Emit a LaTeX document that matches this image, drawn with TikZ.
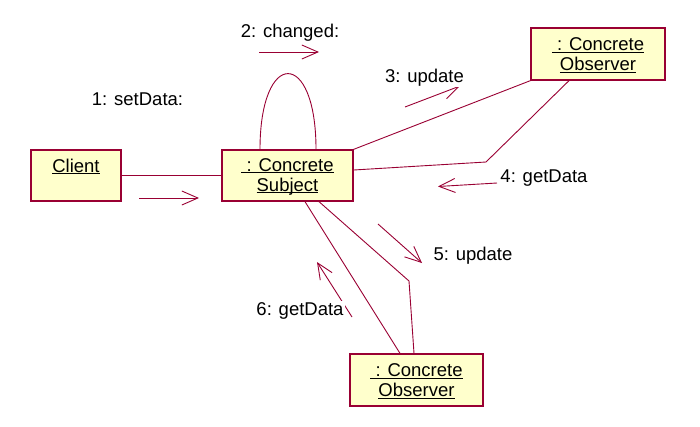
\documentclass[tikz,border=0pt]{standalone}
\usepackage{fontspec}
\setmainfont{Liberation Sans}
\usetikzlibrary{arrows.meta}
\definecolor{umlline}{RGB}{153,0,51}
\definecolor{umlfill}{RGB}{255,255,204}
\newsavebox{\ulnamebox}
\newcommand{\ulname}[1]{\rule{0pt}{15pt}\sbox{\ulnamebox}{#1}\rlap{\rule[-2pt]{\wd\ulnamebox}{0.9pt}}\usebox{\ulnamebox}}

\begin{document}
\begin{tikzpicture}
[x=1pt,y=-1pt,
  objdecorate/.style={shape=rectangle,draw=umlline,fill=umlfill,line width=1.3pt,
    minimum height=51pt,inner sep=0pt,align=center,font=\fontsize{18.5}{20}\selectfont},%
  linkdecorate/.style={-,draw=umlline,line width=0.9pt},%
  msgdecorate/.style={-{Straight Barb[length=16pt,width=14pt]},draw=umlline,line width=0.9pt},%
  labeldecorate/.style={anchor=base,fill=white,inner sep=1.5pt,font=\fontsize{18.5}{20}\selectfont}]
\useasboundingbox (0,0) rectangle (700,426);
%% objects
\node (client) at (76,175.5) [objdecorate,minimum width=90pt] {\ulname{Client}\\\ulname{}};
\node (subject) at (287.5,175.5) [objdecorate,minimum width=131pt] {\ulname{\ : Concrete}\\\ulname{Subject}};
\node (obsA) at (598,54) [objdecorate,minimum width=134pt,minimum height=52pt] {\ulname{\ : Concrete}\\\ulname{Observer}};
\node (obsB) at (416.5,380) [objdecorate,minimum width=133pt,minimum height=52pt] {\ulname{\ : Concrete}\\\ulname{Observer}};
%% links
\coordinate (kneeA) at (486,162);
\coordinate (kneeB) at (409,281);
\draw[linkdecorate] (client.east) -- (subject.west);
\draw[linkdecorate] ([xshift=-27.5pt]subject.north) .. controls +(0,-101) and +(0,-101) .. ([xshift=28.5pt]subject.north);
\draw[linkdecorate] (subject.north east) -- (obsA.south west);
\draw[linkdecorate] ([yshift=5.5pt]subject.east) -- (kneeA) -- ([xshift=-29pt]obsA.south);
\draw[linkdecorate] ([xshift=17.5pt]subject.south) -- ([xshift=-16.5pt]obsB.north);
\draw[linkdecorate] ([xshift=31.5pt]subject.south) -- (kneeB) -- ([xshift=-2.5pt]obsB.north);
%% messages
\foreach \nodename/\x/\y in {m1s/139/198, m1e/199/198, m2s/259/52, m2e/319/52,
  m3s/405/107, m3e/460/86, m4s/497/183, m4e/438/186.5,
  m5s/378/224, m5e/422/263, m6s/352/317, m6e/317/262}
{
  \coordinate (\nodename) at (\x,\y);
}
\path
\foreach \startnode/\endnode in {m1s/m1e, m2s/m2e, m3s/m3e, m4s/m4e, m5s/m5e, m6s/m6e}
{
  (\startnode) edge[msgdecorate] (\endnode)
};
\foreach \lblname/\x/\y/\txt in {lbl1/137.5/105/1: setData:, lbl2/290/37/2: changed:,
  lbl3/424.5/82/3: update, lbl4/544/182/4: getData,
  lbl5/473/260/5: update, lbl6/300/315/6: getData}
{
  \node (\lblname) at (\x,\y) [labeldecorate] {\txt};
}
\end{tikzpicture}
\end{document}
